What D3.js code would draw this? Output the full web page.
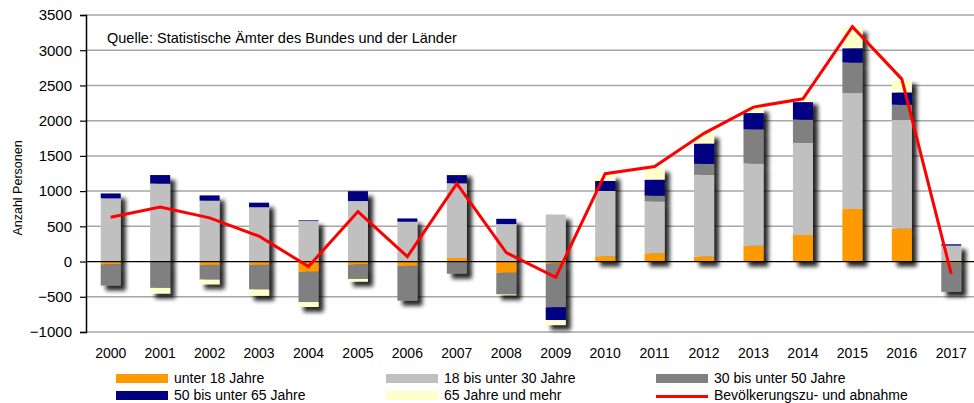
<!DOCTYPE html>
<html>
<head>
<meta charset="utf-8">
<script src="https://cdn.jsdelivr.net/npm/d3@7"></script>
<style>
  body { margin: 0; background: #fff; }
  text { font-family: "Liberation Sans", Arial, sans-serif; }
</style>
</head>
<body>
<div id="chart"></div>
<script>
const years = ['2000','2001','2002','2003','2004','2005','2006','2007','2008','2009',
               '2010','2011','2012','2013','2014','2015','2016','2017'];
const under18   = [-37, -5, -47, -47, -145, -42, -61, 51, -159, -28, 75, 117, 71, 226, 377, 745, 467, -20];
const age18to30 = [897, 1107, 864, 771, 575, 859, 565, 1060, 532, 668, 929, 738, 1160, 1166, 1307, 1647, 1542, 226];
const age30to50 = [-304, -369, -210, -350, -430, -205, -495, -173, -308, -621, 0, 79, 156, 485, 330, 433, 217, -410];
const age50to65 = [70, 121, 75, 65, 10, 140, 47, 117, 75, -182, 140, 229, 288, 231, 250, 203, 175, 19];
const age65plus = [0, -80, -65, -89, -70, -37, 0, 47, -10, -70, 93, 177, 150, 85, 38, 297, 189, 0];
const change    = [630, 775, 620, 360, -70, 710, 70, 1107, 126, -224, 1247, 1350, 1820, 2193, 2311, 3335, 2590, -175];

const seriesKeys = ['u18', 'a18', 'a30', 'a50', 'a65'];
const seriesNames = ['unter 18 Jahre', '18 bis unter 30 Jahre', '30 bis unter 50 Jahre',
                     '50 bis unter 65 Jahre', '65 Jahre und mehr'];
const colors = ['#ff9900', '#c0c0c0', '#808080', '#000080', '#ffffcc'];
const lineColor = '#ff0000';

const width = 974, height = 403;
const x0 = 86, x1 = 976;

const data = years.map((y, i) => ({
  year: y, u18: under18[i], a18: age18to30[i], a30: age30to50[i],
  a50: age50to65[i], a65: age65plus[i], change: change[i]
}));

const xScale = d3.scaleBand().domain(years).range([x0, x1]).paddingInner(0.595).paddingOuter(0.2975);
const xPoint = d3.scalePoint().domain(years).range([x0, x1]).padding(0.5);
const yScale = d3.scaleLinear().domain([-1000, 3500]).range([332, 15]);

const svg = d3.select('#chart').append('svg')
  .attr('width', width).attr('height', height);

const defs = svg.append('defs');
const f = defs.append('filter').attr('id', 'shadow')
  .attr('x', '-50%').attr('y', '-20%').attr('width', '200%').attr('height', '140%');
f.append('feGaussianBlur').attr('in', 'SourceAlpha').attr('stdDeviation', 2.2).attr('result', 'b');
f.append('feOffset').attr('in', 'b').attr('dx', 5).attr('dy', 5).attr('result', 'o');
f.append('feComponentTransfer').attr('in', 'o').attr('result', 'c')
  .append('feFuncA').attr('type', 'linear').attr('slope', 0.85);
const m = f.append('feMerge');
m.append('feMergeNode').attr('in', 'c');
m.append('feMergeNode').attr('in', 'SourceGraphic');

// grid
const ticks = d3.range(-1000, 3501, 500);
svg.append('g').selectAll('line').data(ticks.filter(d => d !== 0)).join('line')
  .attr('x1', x0).attr('x2', width)
  .attr('y1', d => yScale(d)).attr('y2', d => yScale(d))
  .attr('stroke', '#a6a6a6').attr('stroke-width', 1.5);

// y axis
const yAxis = svg.append('g').attr('transform', `translate(${x0},0)`)
  .call(d3.axisLeft(yScale).tickValues(ticks).tickFormat(d3.format('d')).tickSize(6).tickPadding(8));
yAxis.select('.domain').attr('stroke', '#000').attr('stroke-width', 1.5);
yAxis.selectAll('.tick line').attr('stroke', '#000').attr('stroke-width', 1.2);
yAxis.selectAll('.tick text').style('font-size', '15px').style('font-family', '"Liberation Sans", Arial, sans-serif').attr('fill', '#000');

svg.append('text')
  .attr('transform', `translate(22,188) rotate(-90)`)
  .attr('text-anchor', 'middle')
  .style('font-size', '12.5px')
  .text('Anzahl Personen');

svg.append('text')
  .attr('x', 107).attr('y', 43)
  .style('font-size', '14.5px')
  .text('Quelle: Statistische Ämter des Bundes und der Länder');

// stacked bars
const stack = d3.stack().keys(seriesKeys).offset(d3.stackOffsetDiverging);
const stacked = stack(data);

const barGroups = svg.append('g').selectAll('g').data(years).join('g')
  .attr('filter', 'url(#shadow)');

barGroups.each(function (yr, i) {
  const g = d3.select(this);
  stacked.forEach((s, k) => {
    const d = s[i];
    const top = yScale(Math.max(d[0], d[1]));
    const bot = yScale(Math.min(d[0], d[1]));
    if (bot - top <= 0) return;
    g.append('rect')
      .attr('x', xScale(yr)).attr('width', xScale.bandwidth())
      .attr('y', top).attr('height', bot - top)
      .attr('fill', colors[k]);
  });
});

// zero line
svg.append('line')
  .attr('x1', x0).attr('x2', width)
  .attr('y1', yScale(0)).attr('y2', yScale(0))
  .attr('stroke', '#000').attr('stroke-width', 1.3);

// line
svg.append('path').datum(data)
  .attr('fill', 'none').attr('stroke', lineColor).attr('stroke-width', 3)
  .attr('stroke-linejoin', 'miter')
  .attr('d', d3.line().x(d => xPoint(d.year)).y(d => yScale(d.change)));

// x labels
svg.append('g').selectAll('text').data(years).join('text')
  .attr('x', d => xPoint(d)).attr('y', 358)
  .attr('text-anchor', 'middle')
  .style('font-size', '14px')
  .text(d => d);

// legend
const legendItems = seriesNames.map((n, i) => ({ name: n, color: colors[i], type: 'rect' }))
  .concat([{ name: 'Bevölkerungszu- und abnahme', color: lineColor, type: 'line' }]);
const colX = [116, 386, 656];
const rowY = [383, 400];
const leg = svg.append('g').selectAll('g').data(legendItems).join('g')
  .attr('transform', (d, i) => `translate(${colX[i % 3]},${rowY[Math.floor(i / 3)]})`);
leg.filter(d => d.type === 'rect').append('rect')
  .attr('x', 0).attr('y', -9).attr('width', 52).attr('height', 9)
  .attr('fill', d => d.color);
leg.filter(d => d.type === 'line').append('line')
  .attr('x1', 0).attr('x2', 52).attr('y1', -3.5).attr('y2', -3.5)
  .attr('stroke', d => d.color).attr('stroke-width', 3);
leg.append('text')
  .attr('x', 58).attr('y', 0)
  .style('font-size', '14px')
  .text(d => d.name);
</script>
</body>
</html>
